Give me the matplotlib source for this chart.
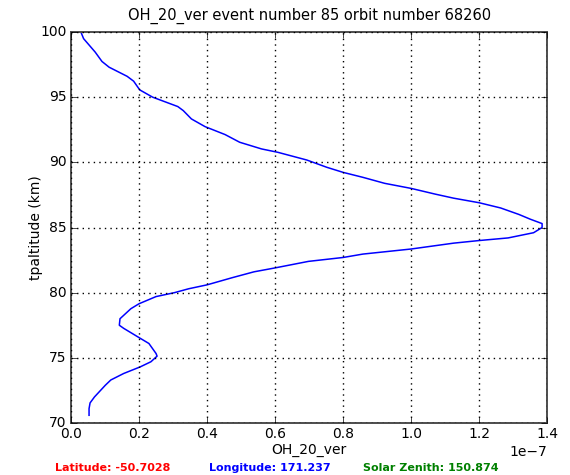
import matplotlib
matplotlib.use("Agg")
import matplotlib.pyplot as plt
import numpy as np

plt.style.use("classic")

# OH volume emission rate profile (units of 1e-7) vs tangent-point altitude (km)
altitude_km = [100.0, 99.49, 98.46, 97.74, 97.3, 96.6, 96.23, 95.56, 95.0, 94.28,
               93.97, 93.33, 92.74, 92.13, 91.54, 91.03, 90.77, 90.18, 89.62, 89.23,
               88.85, 88.39, 88.0, 87.56, 87.25, 86.9, 86.5, 86.0, 85.64, 85.3,
               85.0, 84.6, 84.2, 84.0, 83.8, 83.35, 82.96, 82.7, 82.4, 81.9,
               81.6, 81.15, 80.6, 80.3, 80.0, 79.7, 79.15, 78.77, 78.0, 77.5,
               77.26, 76.6, 76.1, 75.33, 75.13, 74.7, 74.3, 73.8, 73.3, 72.9,
               72.0, 71.54, 71.1, 70.59]
oh_ver = [0.029, 0.037, 0.071, 0.091, 0.112, 0.165, 0.184, 0.202, 0.24, 0.314,
          0.33, 0.354, 0.394, 0.453, 0.496, 0.56, 0.608, 0.693, 0.752, 0.8,
          0.858, 0.922, 1.0, 1.071, 1.125, 1.2, 1.263, 1.317, 1.35, 1.385,
          1.385, 1.36, 1.285, 1.2, 1.125, 1.0, 0.858, 0.8, 0.698, 0.6,
          0.538, 0.474, 0.4, 0.346, 0.304, 0.25, 0.2, 0.176, 0.144, 0.142,
          0.155, 0.197, 0.229, 0.25, 0.253, 0.235, 0.203, 0.155, 0.117, 0.101,
          0.069, 0.056, 0.053, 0.053]
scale = 1e-7

title = "OH_20_ver event number 85 orbit number 68260"
info_labels = ["Latitude: -50.7028", "Longitude: 171.237", "Solar Zenith: 150.874"]
info_colors = ["red", "blue", "green"]

plt.rcParams["font.size"] = 10
plt.rcParams["xtick.labelsize"] = 10
plt.rcParams["ytick.labelsize"] = 10

fig = plt.figure(figsize=(5.7, 4.75), dpi=100, facecolor="white")
ax = fig.add_axes([0.1246, 0.1095, 0.8354, 0.8231])
ax.plot(np.array(oh_ver) * scale, altitude_km, color="b", lw=1.1)
ax.set_xlim(0, 1.4e-7)
ax.set_ylim(70, 100)
ax.set_xticks(np.arange(0, 1.41e-7, 0.2e-7))
ax.set_yticks(np.arange(70, 101, 5))
ax.grid(True, color="black", linestyle=":", linewidth=1)
for sp in ax.spines.values():
    sp.set_linewidth(1.4)
    sp.set_color("0.3")
ax.tick_params(pad=3)
ax.xaxis.get_offset_text().set_fontsize(10)
ax.set_title(title, fontsize=10.5, pad=9)
ax.set_xlabel("OH_20_ver", fontsize=10, labelpad=1)
ax.set_ylabel("tpaltitude (km)", fontsize=10, labelpad=-2)

for xpos, txt, col in zip([0.097, 0.367, 0.637], info_labels, info_colors):
    fig.text(xpos, 0.015, txt, color=col, fontsize=8, fontweight="bold",
             ha="left", va="center")

fig.savefig("out.png", dpi=100, facecolor="white")
